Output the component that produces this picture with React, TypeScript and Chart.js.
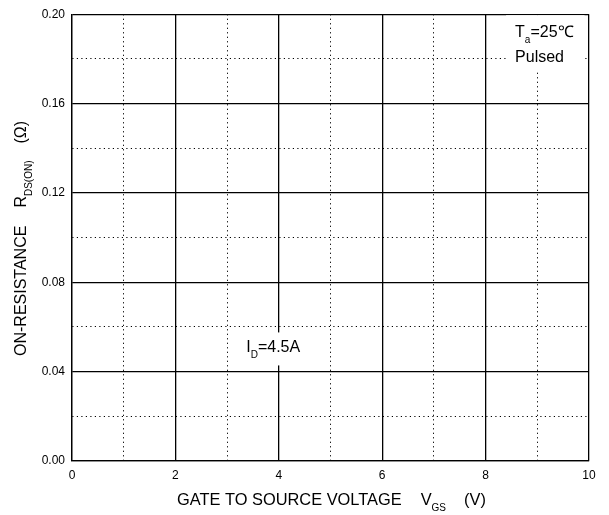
import React, { useEffect, useRef } from "react";
import { Chart, registerables } from "chart.js";

Chart.register(...registerables);

// ---- data ----
const xMin = 0;
const xMax = 10;
const xStep = 1;
const yMin = 0;
const yMax = 0.2;
const yStep = 0.02;
const xTickLabels = ["0", "", "2", "", "4", "", "6", "", "8", "", "10"];
const yTickLabels = ["0.00", "", "0.04", "", "0.08", "", "0.12", "", "0.16", "", "0.20"];
const curveData: { x: number; y: number }[] = []; // the reference shows no curve

const xTitleParts = ["GATE TO SOURCE VOLTAGE", "V", "GS", "(V)"];
const yTitleParts = ["ON-RESISTANCE", "R", "DS(ON)", "(Ω)"];
const condTa = ["T", "a", "=25℃"];
const condPulsed = "Pulsed";
const condId = ["I", "D", "=4.5A"];
// annotation anchors in data units (x, y)
const taAnchor = [8.57, 0.1898];
const pulsedAnchor = [8.57, 0.1786];
const idAnchor = [3.37, 0.0486];

const FONT = '"Liberation Sans", Arial, Helvetica, sans-serif';

type Part = { t: string; size: number; dy: number };

function drawParts(ctx: CanvasRenderingContext2D, parts: Part[], x: number, y: number, gapAfter: number[] = []) {
  let cx = x;
  parts.forEach((p, i) => {
    ctx.font = `${p.size}px ${FONT}`;
    ctx.fillText(p.t, cx, y + p.dy);
    cx += ctx.measureText(p.t).width + (gapAfter[i] || 0);
  });
  return cx;
}

function partsWidth(ctx: CanvasRenderingContext2D, parts: Part[]) {
  let w = 0;
  parts.forEach((p) => {
    ctx.font = `${p.size}px ${FONT}`;
    w += ctx.measureText(p.t).width;
  });
  return w;
}

const overlayPlugin = {
  id: "overlay",
  afterDraw(chart: any) {
    const ctx: CanvasRenderingContext2D = chart.ctx;
    const xs = chart.scales.x;
    const ys = chart.scales.y;
    ctx.save();
    ctx.fillStyle = "#000";
    ctx.textBaseline = "alphabetic";
    ctx.textAlign = "left";

    // x title
    drawParts(
      ctx,
      [
        { t: xTitleParts[0], size: 16.4, dy: 0 },
        { t: xTitleParts[1], size: 16.4, dy: 0 },
        { t: xTitleParts[2], size: 10, dy: 6 },
        { t: xTitleParts[3], size: 16.4, dy: 0 },
      ],
      177,
      505,
      [19, 0, 18]
    );

    // y title (rotated)
    ctx.save();
    ctx.translate(26, 356);
    ctx.rotate(-Math.PI / 2);
    drawParts(
      ctx,
      [
        { t: yTitleParts[0], size: 16, dy: 0 },
        { t: yTitleParts[1], size: 16, dy: 0 },
        { t: yTitleParts[2], size: 10, dy: 6 },
        { t: yTitleParts[3], size: 16, dy: 0 },
      ],
      0,
      0,
      [18, 0, 17]
    );
    ctx.restore();

    // condition box (Ta / Pulsed)
    const tx = xs.getPixelForValue(taAnchor[0]);
    const ty = ys.getPixelForValue(taAnchor[1]);
    const px = xs.getPixelForValue(pulsedAnchor[0]);
    const py = ys.getPixelForValue(pulsedAnchor[1]);
    const taParts: Part[] = [
      { t: condTa[0], size: 16, dy: 0 },
      { t: condTa[1], size: 10, dy: 6 },
      { t: condTa[2], size: 16, dy: 0 },
    ];
    const wTa = partsWidth(ctx, taParts);
    ctx.font = `16px ${FONT}`;
    const wP = ctx.measureText(condPulsed).width;
    const bw = Math.max(wTa, wP);
    ctx.fillStyle = "#fff";
    ctx.fillRect(tx - 9, chart.chartArea.top + 1, bw + 20, py + 10 - (chart.chartArea.top + 1));
    ctx.fillStyle = "#000";
    drawParts(ctx, taParts, tx, ty);
    ctx.font = `16px ${FONT}`;
    ctx.fillText(condPulsed, px, py);

    // Id label
    const ix = xs.getPixelForValue(idAnchor[0]);
    const iy = ys.getPixelForValue(idAnchor[1]);
    const idParts: Part[] = [
      { t: condId[0], size: 16, dy: 0 },
      { t: condId[1], size: 10, dy: 6 },
      { t: condId[2], size: 16, dy: 0 },
    ];
    const wId = partsWidth(ctx, idParts);
    ctx.fillStyle = "#fff";
    ctx.fillRect(ix - 8, iy - 20, wId + 16, 33);
    ctx.fillStyle = "#000";
    drawParts(ctx, idParts, ix, iy);

    ctx.restore();
  },
};

const isMajor = (v: number, step: number) => Math.round(v / step) % 2 === 0;

export default function App() {
  const ref = useRef<HTMLCanvasElement | null>(null);

  useEffect(() => {
    if (!ref.current) return;
    const chart = new Chart(ref.current, {
      type: "scatter",
      data: {
        datasets: [
          {
            data: curveData,
            borderColor: "#000",
            backgroundColor: "#000",
            showLine: true,
            pointRadius: 0,
          },
        ],
      },
      options: {
        responsive: false,
        animation: false,
        events: [],
        layout: { padding: { left: 28, right: 20, top: 12, bottom: 34 } },
        plugins: { legend: { display: false }, tooltip: { enabled: false } },
        scales: {
          x: {
            type: "linear",
            min: xMin,
            max: xMax,
            afterFit: (s: any) => {
              s.height = 20;
            },
            ticks: {
              stepSize: xStep,
              autoSkip: false,
              maxRotation: 0,
              padding: 7,
              color: "#000",
              font: { family: FONT, size: 12 },
              callback: (_v: any, i: number) => xTickLabels[i],
            },
            grid: {
              drawTicks: false,
              color: "#000",
              lineWidth: (c: any) => (c.tick && isMajor(c.tick.value, xStep) ? 1.3 : 1),
            },
            border: {
              display: true,
              color: "#000",
              width: 1.3,
              dash: (c: any) => (c.tick && !isMajor(c.tick.value, xStep) ? [1.2, 3.3] : []),
            },
          },
          y: {
            type: "linear",
            min: yMin,
            max: yMax,
            afterFit: (s: any) => {
              s.width = 44;
            },
            ticks: {
              stepSize: yStep,
              autoSkip: false,
              padding: 7,
              color: "#000",
              font: { family: FONT, size: 12 },
              callback: (_v: any, i: number) => yTickLabels[i],
            },
            grid: {
              drawTicks: false,
              color: "#000",
              lineWidth: (c: any) => (c.tick && isMajor(c.tick.value, yStep) ? 1.3 : 1),
            },
            border: {
              display: true,
              color: "#000",
              width: 1.3,
              dash: (c: any) => (c.tick && !isMajor(c.tick.value, yStep) ? [1.2, 3.3] : []),
            },
          },
        },
      } as any,
      plugins: [overlayPlugin],
    });
    return () => chart.destroy();
  }, []);

  return (
    <div style={{ position: "absolute", left: 0, top: 0, width: 609, height: 515, background: "#fff" }}>
      <canvas ref={ref} width={609} height={515} />
    </div>
  );
}
